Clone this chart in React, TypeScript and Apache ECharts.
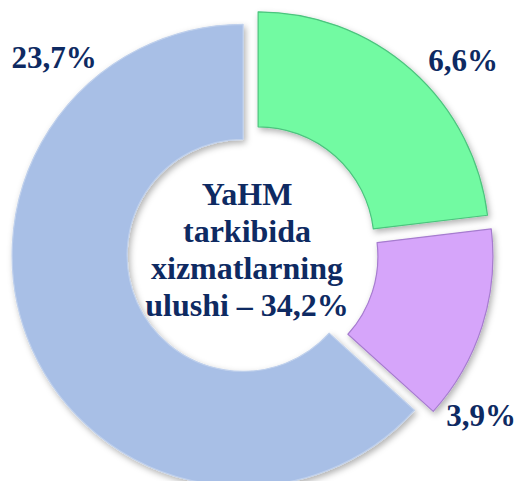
import React, { useEffect, useRef } from "react";
import * as echarts from "echarts";

// Sectors of services in GDP (names are not printed in the picture)
const categories = ["Sektor 1", "Sektor 2", "Sektor 3"];
// Percentages printed on the chart
const shareLabels = [6.6, 3.9, 23.7];
// Angular share of each slice as it is drawn in the picture (the drawn
// slice sizes in the source are not proportional to the printed numbers)
const sliceShares = [23.1, 13.6, 63.3];

const COLORS = ["#72FAA2", "#D6A5FA", "#A8BFE6"];
const BORDERS = ["#4CC47E", "#A67CCF", "#BFD0EC"];
const OFFSETS = [13, 13, 7];
const CENTER = [249.5, 252.5];
const RADIUS = [116, 231];
const LABEL_POS = [
  [463, 60],
  [481, 415],
  [54, 57],
];
const TEXT_COLOR = "#0E2A62";
const FONT = "'Liberation Serif', 'Times New Roman', serif";

const fmt = (v: number) => v.toFixed(1).replace(".", ",");

export default function App() {
  const ref = useRef<HTMLDivElement>(null);
  useEffect(() => {
    if (!ref.current) return;
    const chart = echarts.init(ref.current, undefined, { renderer: "svg" });
    const total = shareLabels.reduce((a, b) => a + b, 0);
    const sum = sliceShares.reduce((a, b) => a + b, 0);

    let cum = 0;
    const series = sliceShares.map((v, k) => {
      // explode each slice along its bisector by moving that series' centre
      const mid = ((cum + v / 2) / sum) * 2 * Math.PI;
      cum += v;
      const cx = CENTER[0] + OFFSETS[k] * Math.sin(mid);
      const cy = CENTER[1] - OFFSETS[k] * Math.cos(mid);
      return {
        type: "pie",
        center: [cx, cy],
        radius: RADIUS,
        startAngle: 90,
        clockwise: true,
        avoidLabelOverlap: false,
        emphasis: { disabled: true },
        silent: true,
        z: 2,
        label: {
          show: true,
          position: "outside",
          formatter: (p: any) => fmt(shareLabels[p.dataIndex]) + "%",
          fontFamily: FONT,
          fontWeight: "bold",
          fontSize: 31,
          color: TEXT_COLOR,
        },
        labelLine: { show: false },
        labelLayout: (p: any) =>
          p.dataIndex === k
            ? {
                x: LABEL_POS[k][0],
                y: LABEL_POS[k][1],
                align: "center",
                verticalAlign: "middle",
              }
            : {},
        data: sliceShares.map((val, i) => ({
          name: categories[i],
          value: val,
          itemStyle:
            i === k
              ? {
                  color: COLORS[i],
                  borderColor: BORDERS[i],
                  borderWidth: 1.2,
                  shadowBlur: 6,
                  shadowColor: "rgba(0,0,0,0.3)",
                  shadowOffsetX: 2,
                  shadowOffsetY: 3,
                }
              : { color: "rgba(0,0,0,0)", borderWidth: 0 },
          label: { show: i === k },
        })),
      };
    });

    chart.setOption({
      animation: false,
      tooltip: { show: false },
      series,
      graphic: [
        {
          type: "text",
          x: 247,
          y: 249,
          z: 10,
          style: {
            text: `YaHM\ntarkibida\nxizmatlarning\nulushi – ${fmt(total)}%`,
            align: "center",
            verticalAlign: "middle",
            fontFamily: FONT,
            fontWeight: "bold",
            fontSize: 32,
            lineHeight: 37,
            fill: TEXT_COLOR,
          },
        },
      ],
    } as any);
    return () => chart.dispose();
  }, []);
  return (
    <div
      ref={ref}
      style={{ position: "absolute", left: 0, top: 0, width: 519, height: 481 }}
    />
  );
}
